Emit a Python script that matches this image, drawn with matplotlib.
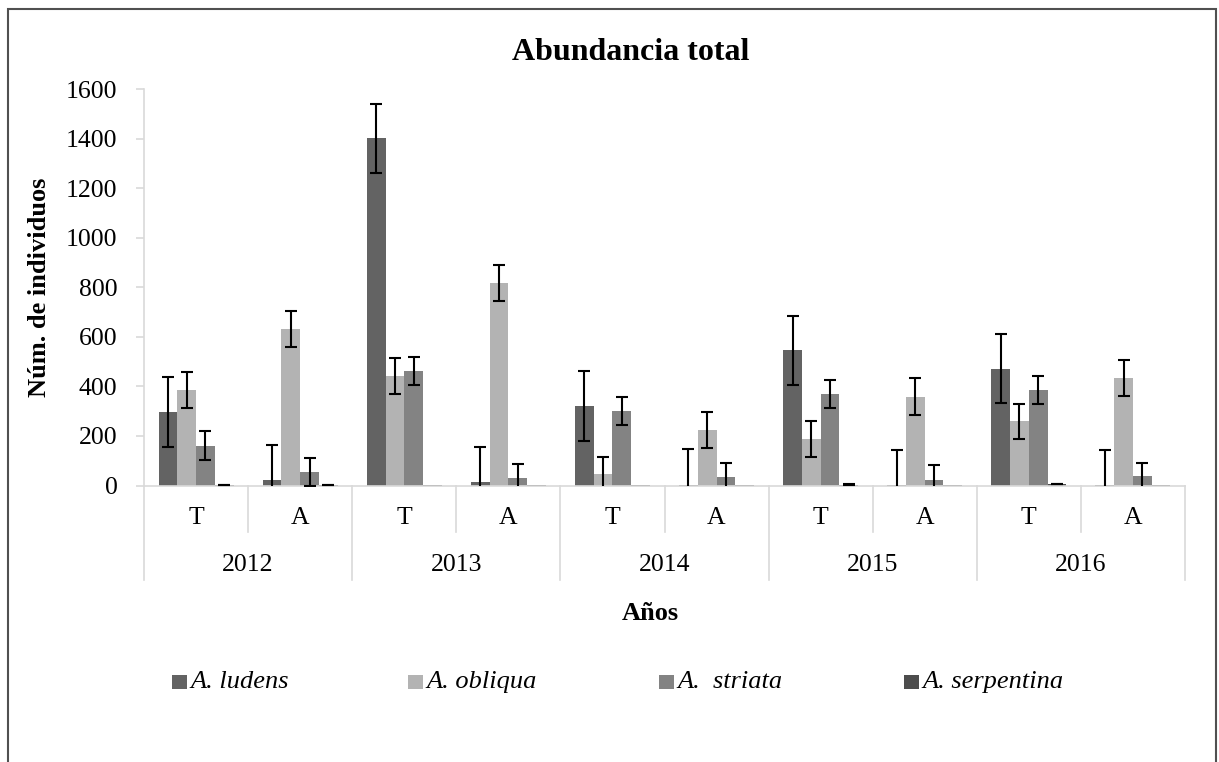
import numpy as np
import matplotlib
matplotlib.use("Agg")
import matplotlib.pyplot as plt
from matplotlib.transforms import blended_transform_factory
from matplotlib.patches import Rectangle
from matplotlib.lines import Line2D

# ---------------- data ----------------
years = ["2012", "2013", "2014", "2015", "2016"]
seasons = ["T", "A"]
species = ["A. ludens", "A. obliqua", "A.  striata", "A. serpentina"]

ludens = [297, 23, 1402, 15, 322, 3, 545, 1, 472, 1]
ludens_err = [140, 139, 139, 141, 141, 143, 140, 142, 138, 144]
obliqua = [384, 631, 443, 818, 46, 224, 189, 359, 259, 434]
obliqua_err = [73, 74, 73, 73, 71, 72, 73, 73, 71, 71]
striata = [161, 54, 462, 31, 301, 35, 368, 24, 384, 38]
striata_err = [57, 56, 57, 56, 58, 55, 56, 57, 56, 53]
serpentina = [3, 3, 1, 3, 1, 1, 4, 1, 6, 2]
serpentina_err = [1, 1, 0, 0, 0, 0, 1, 0, 1, 0]

yticks = [0, 200, 400, 600, 800, 1000, 1200, 1400, 1600]

colors = ["#636363", "#b3b3b3", "#838383", "#4d4d4d"]

# ---------------- figure ----------------
W, H = 1219, 762
plt.rcParams["font.family"] = ["Liberation Serif", "DejaVu Serif"]
fig = plt.figure(figsize=(W / 100, H / 100), dpi=100)

def fx(px):
    return px / W

def fy(py):
    return 1 - py / H

ax_left, ax_right, ax_top, ax_bot = 144, 1185, 89, 485.5
ax = fig.add_axes([fx(ax_left), fy(ax_bot), fx(ax_right - ax_left), (ax_bot - ax_top) / H])

n = len(ludens)
x = np.arange(n)
bw = 0.18
series = [(ludens, ludens_err), (obliqua, obliqua_err), (striata, striata_err), (serpentina, serpentina_err)]
for k, (vals, errs) in enumerate(series):
    xs = x + (k - 1.5) * bw
    ax.bar(xs, vals, width=bw, color=colors[k], edgecolor="none", zorder=2)
    m = np.array(errs) > 0
    ax.errorbar(xs[m], np.array(vals)[m], yerr=np.array(errs)[m], fmt="none",
                ecolor="black", elinewidth=1.5, capsize=4, capthick=1.5, zorder=3)

ax.set_xlim(-0.5, n - 0.5)
ax.set_ylim(0, 1600)
ax.set_yticks(yticks)
ax.set_yticklabels([str(v) for v in yticks], fontsize=18.5)
ax.set_xticks([])
for s in ["top", "right"]:
    ax.spines[s].set_visible(False)
for s in ["left", "bottom"]:
    ax.spines[s].set_color("#d9d9d9")
    ax.spines[s].set_linewidth(1.2)
ax.tick_params(axis="y", direction="out", length=6, width=1.2, color="#d9d9d9", pad=13)

# multi-level category axis
tr = blended_transform_factory(ax.transData, fig.transFigure)
for i in range(n):
    ax.text(i, fy(518), seasons[i % 2], transform=tr, ha="center", va="center", fontsize=18.5)
for j, yr in enumerate(years):
    ax.text(2 * j + 0.5, fy(565), yr, transform=tr, ha="center", va="center", fontsize=18.5)
for j in range(len(years)):
    xm = 2 * j + 0.5
    fig.add_artist(Line2D([xm, xm], [fy(ax_bot), fy(532)], transform=tr, color="#d9d9d9", lw=1.2))
for j in range(len(years) + 1):
    xb = 2 * j - 0.5
    fig.add_artist(Line2D([xb, xb], [fy(ax_bot), fy(580)], transform=tr, color="#d9d9d9", lw=1.2))

# titles
fig.text(fx(631), fy(52), "Abundancia total", ha="center", va="center", fontsize=23, fontweight="bold")
fig.text(fx(650), fy(613), "Años", ha="center", va="center", fontsize=19, fontweight="bold")
fig.text(fx(40), fy(287), "Núm. de individuos", ha="center", va="center", rotation=90,
         fontsize=19, fontweight="bold")

# legend (manual)
leg_x = [172, 408, 659, 904]
for k, name in enumerate(species):
    fig.add_artist(Rectangle((fx(leg_x[k]), fy(689)), 15 / W, 14 / H, transform=fig.transFigure,
                             facecolor=colors[k], edgecolor="none"))
    fig.text(fx(leg_x[k] + 18), fy(682), name, ha="left", va="center", fontsize=19, style="italic")

# chart frame
fig.add_artist(Rectangle((fx(8), fy(800)), fx(1216 - 8), (800 - 9) / H, transform=fig.transFigure,
                         facecolor="none", edgecolor="#505050", lw=1.5))

fig.savefig("out.png", dpi=100)
